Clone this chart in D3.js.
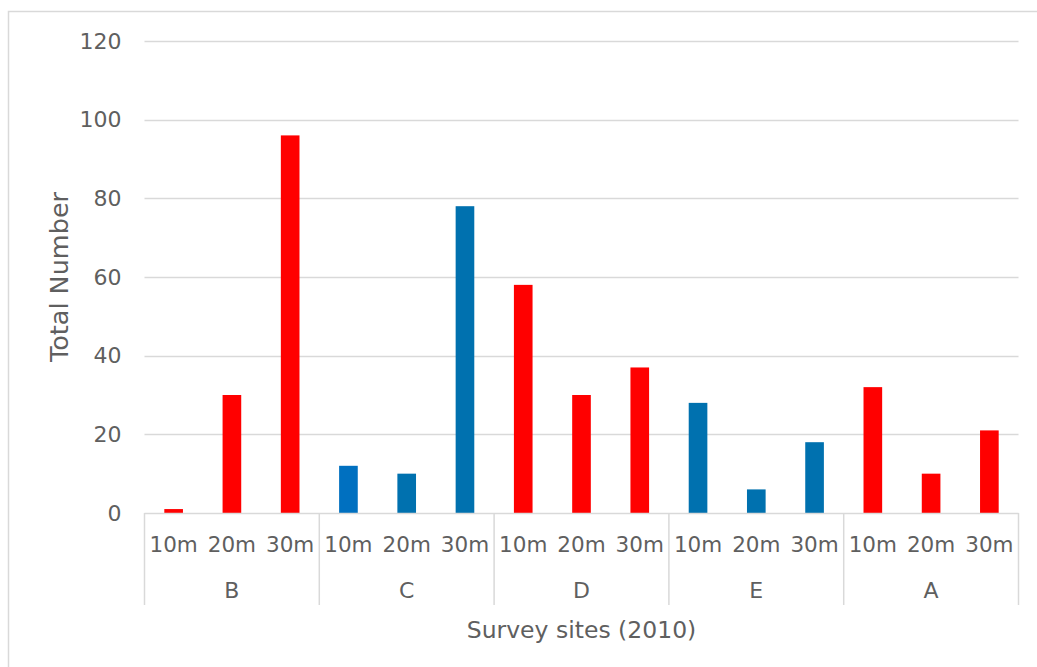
<!DOCTYPE html>
<html>
<head>
<meta charset="utf-8">
<script src="https://cdn.jsdelivr.net/npm/d3@7"></script>
<style>
  html, body { margin: 0; padding: 0; background: #fff; }
  svg { display: block; }
  text { font-family: "DejaVu Sans", "Open Sans", sans-serif; fill: #5f5f5f; }
</style>
</head>
<body>
<svg id="chart" width="1037" height="667"></svg>
<script>
// Survey sites and depth classes along the x axis
const sites = ["B", "C", "D", "E", "A"];
const depths = ["10m", "20m", "30m"];

// Total number counted per site, in depth order 10m, 20m, 30m
const siteB = [1, 30, 96];
const siteC = [12, 10, 78];
const siteD = [58, 30, 37];
const siteE = [28, 6, 18];
const siteA = [32, 10, 21];

// Fill per bar, in the same order
const fillB = ["#FF0000", "#FF0000", "#FF0000"];
const fillC = ["#0070C0", "#0071AF", "#0071AF"];
const fillD = ["#FF0000", "#FF0000", "#FF0000"];
const fillE = ["#0071AF", "#0071AF", "#0071AF"];
const fillA = ["#FF0000", "#FF0000", "#FF0000"];

const yTicks = [0, 20, 40, 60, 80, 100, 120];

const siteValues = [siteB, siteC, siteD, siteE, siteA];
const siteFills = [fillB, fillC, fillD, fillE, fillA];

const rows = [];
sites.forEach((s, i) => {
  depths.forEach((d, j) => {
    rows.push({ key: s + "|" + d, site: s, depth: d, value: siteValues[i][j], fill: siteFills[i][j] });
  });
});

const svg = d3.select("#chart");
const plotLeft = 144.5, plotRight = 1018.5, plotTop = 41, plotBottom = 513;
const labelFont = '"DejaVu Sans", "Open Sans", sans-serif';

// Chart frame
svg.append("rect")
  .attr("x", 8.5).attr("y", 11.5)
  .attr("width", 1040).attr("height", 670)
  .attr("fill", "none").attr("stroke", "#D9D9D9").attr("stroke-width", 1.5);

const y = d3.scaleLinear().domain([0, 120]).range([plotBottom, plotTop]);

const x = d3.scaleBand()
  .domain(rows.map(r => r.key))
  .range([plotLeft, plotRight])
  .paddingInner(0.68)
  .paddingOuter(0.34);

const xSite = d3.scaleBand().domain(sites).range([plotLeft, plotRight]);

// Horizontal gridlines
svg.append("g")
  .selectAll("line")
  .data(yTicks.filter(t => t > 0))
  .join("line")
  .attr("x1", plotLeft).attr("x2", plotRight)
  .attr("y1", d => Math.round(y(d)) + 0.5).attr("y2", d => Math.round(y(d)) + 0.5)
  .attr("stroke", "#D9D9D9").attr("stroke-width", 1.3);

// Y axis tick labels
const yAxis = d3.axisLeft(y).tickValues(yTicks).tickSize(0).tickPadding(23);
const gy = svg.append("g").attr("transform", `translate(${plotLeft},0)`).call(yAxis);
gy.select(".domain").remove();
gy.selectAll("text")
  .attr("font-size", 22)
  .attr("fill", "#5f5f5f")
  .style("font-family", labelFont);

// Bars
svg.append("g")
  .selectAll("rect")
  .data(rows)
  .join("rect")
  .attr("x", d => x(d.key))
  .attr("width", x.bandwidth())
  .attr("y", d => y(d.value))
  .attr("height", d => y(0) - y(d.value))
  .attr("fill", d => d.fill);

// Baseline
svg.append("line")
  .attr("x1", plotLeft).attr("x2", plotRight)
  .attr("y1", plotBottom + 0.5).attr("y2", plotBottom + 0.5)
  .attr("stroke", "#D9D9D9").attr("stroke-width", 1.5);

// Group separators
const seps = sites.map(s => xSite(s)).concat([plotRight]);
svg.append("g")
  .selectAll("line")
  .data(seps)
  .join("line")
  .attr("x1", d => d).attr("x2", d => d)
  .attr("y1", plotBottom).attr("y2", 605)
  .attr("stroke", "#D9D9D9").attr("stroke-width", 1.5);

// Depth labels
svg.append("g")
  .selectAll("text")
  .data(rows)
  .join("text")
  .attr("x", d => x(d.key) + x.bandwidth() / 2)
  .attr("y", 544)
  .attr("text-anchor", "middle")
  .attr("dominant-baseline", "central")
  .attr("font-size", 21.5)
  .text(d => d.depth);

// Site labels
svg.append("g")
  .selectAll("text")
  .data(sites)
  .join("text")
  .attr("x", d => xSite(d) + xSite.bandwidth() / 2)
  .attr("y", 590)
  .attr("text-anchor", "middle")
  .attr("dominant-baseline", "central")
  .attr("font-size", 22)
  .text(d => d);

// Axis titles
svg.append("text")
  .attr("x", (plotLeft + plotRight) / 2)
  .attr("y", 630)
  .attr("text-anchor", "middle")
  .attr("dominant-baseline", "central")
  .attr("font-size", 23.5)
  .text("Survey sites (2010)");

svg.append("text")
  .attr("transform", `translate(59,${(plotTop + plotBottom) / 2}) rotate(-90)`)
  .attr("text-anchor", "middle")
  .attr("dominant-baseline", "central")
  .attr("font-size", 25.5)
  .text("Total Number");
</script>
</body>
</html>
